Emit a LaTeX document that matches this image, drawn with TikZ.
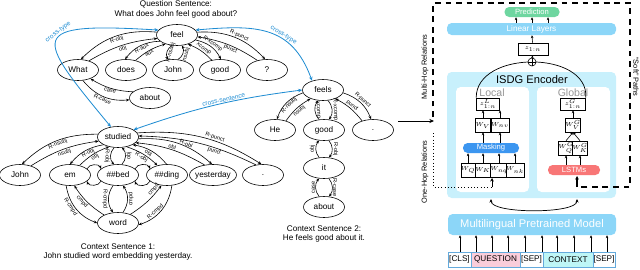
\documentclass[tikz,border=0pt]{standalone}
\usepackage{fontspec}
\setmainfont{Liberation Sans}
\usetikzlibrary{arrows.meta,shapes.geometric,calc}
\definecolor{xblue}{RGB}{30,140,210}
\definecolor{pgreen}{RGB}{110,214,160}
\definecolor{lblue}{RGB}{140,214,248}
\definecolor{cyanbg}{RGB}{200,240,252}
\definecolor{mblue}{RGB}{60,150,240}
\definecolor{lred}{RGB}{248,118,118}
\definecolor{qpink}{RGB}{250,205,218}
\definecolor{ccyan}{RGB}{190,246,246}
\definecolor{tokb}{RGB}{100,170,220}
\definecolor{gtext}{RGB}{150,150,150}
\begin{document}
\begin{tikzpicture}[x=0.03cm,y=-0.03cm,
 tok/.style={ellipse,draw,line width=0.5pt,minimum width=1.23cm,minimum height=0.63cm,inner sep=0pt,font=\fontsize{7}{8}\selectfont},
 rel/.style={line width=0.5pt,-{Stealth[length=3pt,width=2.4pt]}},
 lab/.style={font=\fontsize{4.8}{5}\selectfont,inner sep=0.5pt,sloped},
 cross/.style={xblue,line width=0.7pt,{Stealth[length=3.5pt,width=3pt]}-{Stealth[length=3.5pt,width=3pt]}},
 clab/.style={font=\fontsize{5.5}{6}\selectfont,text=xblue,inner sep=0.6pt,sloped},
 capt/.style={font=\fontsize{7}{8.5}\selectfont,align=center},
 wbox/.style={draw,fill=white,line width=0.5pt,minimum width=0.39cm,minimum height=0.42cm,inner sep=0pt,font=\fontsize{4.6}{5}\selectfont},
 zb/.style={draw,fill=white,line width=0.5pt,minimum width=0.69cm,minimum height=0.36cm,inner sep=0pt,font=\fontsize{5.5}{5.5}\selectfont},
 arr/.style={line width=0.5pt,-{Stealth[length=2.5pt,width=2.2pt]}},
 tokr/.style={draw=tokb,line width=0.5pt,minimum height=0.45cm,inner sep=0pt,font=\fontsize{7}{7}\selectfont},
 vlab/.style={font=\fontsize{6.3}{7}\selectfont}
]
\useasboundingbox (0,0) rectangle (640,269);

% ---------- Question sentence ----------
\node[capt] (qcap) at (176,9) {Question Sentence:\\What does John feel good about?};
\node[tok] (feel) at (177,35) {feel};
\node[tok] (what) at (78,70) {What};
\node[tok] (does) at (126,70) {does};
\node[tok] (john) at (173,70) {John};
\node[tok] (good) at (220,70) {good};
\node[tok] (q) at (267,70) {?};
\node[tok] (about) at (150,98) {about};

\draw[rel] (feel.172) to[bend right=25] node[lab,auto,swap]{R-obj} (what.75);
\draw[rel] (what.40) to[bend left=12] node[lab,auto,swap,pos=0.5]{obj} (feel.190);
\draw[rel] (feel.200) to[bend right=25] node[lab,auto,swap]{R-aux} (does.95);
\draw[rel] (does.45) to[bend left=12] node[lab,auto,swap,pos=0.45]{aux} (feel.218);
\draw[rel] (feel.245) to[bend right=45] node[lab,auto,swap]{R-nsubj} (john.115);
\draw[rel] (john.65) to[bend right=45] node[lab,auto,swap]{nsubj} (feel.295);
\draw[rel] (feel.345) to[bend left=25] node[lab,auto]{R-xcomp} (good.85);
\draw[rel] (good.130) to[bend right=12] node[lab,auto,pos=0.45]{xcomp} (feel.320);
\draw[rel] (feel.8) to[bend left=25] node[lab,auto,pos=0.55]{R-punct} (q.100);
\draw[rel] (q.135) to[bend right=12] node[lab,auto,swap,pos=0.45]{punct} (feel.355);
\draw[rel] (what.295) to[bend right=28] node[lab,auto,swap]{R-case} (about.185);
\draw[rel] (about.160) to[bend left=14] node[lab,auto,swap]{case} (what.325);

% ---------- Context sentence 1 ----------
\node[tok] (studied) at (118,137) {studied};
\node[tok] (john2) at (20,175) {John};
\node[tok] (em) at (70,175) {em};
\node[tok] (bed) at (118,175) {\#\#bed};
\node[tok] (ding) at (167,175) {\#\#ding};
\node[tok,inner xsep=-1pt] (yest) at (213,175) {yesterday};
\node[tok] (dot1) at (263,175) {.};
\node[tok] (word) at (118,223) {word};
\node[capt] (c1cap) at (118,252) {Context Sentence 1:\\John studied word embedding yesterday.};

\draw[rel] (studied.172) to[bend right=22] node[lab,auto,swap]{R-nsubj} (john2.80);
\draw[rel] (john2.40) to[bend left=12] node[lab,auto,swap,pos=0.5]{nsubj} (studied.192);
\draw[rel] (studied.208) to[bend right=20] node[lab,auto,swap,pos=0.45]{R-obj} (em.90);
\draw[rel] (em.45) to[bend left=12] node[lab,auto,swap,pos=0.5]{obj} (studied.228);
\draw[rel] (studied.250) to[bend right=45] node[lab,auto,swap]{R-obj} (bed.110);
\draw[rel] (bed.70) to[bend right=45] node[lab,auto,swap]{obj} (studied.290);
\draw[rel] (studied.312) to[bend left=12] node[lab,auto,swap,pos=0.5]{R-obj} (ding.135);
\draw[rel] (ding.92) to[bend right=20] node[lab,auto,swap,pos=0.55]{obj} (studied.332);
\draw[rel] (studied.355) to[bend left=22] node[lab,auto,pos=0.6]{R-obl} (yest.95);
\draw[rel] (yest.130) to[bend right=12] node[lab,auto,pos=0.5]{obl} (studied.342);
\draw[rel] (studied.12) to[bend left=18] node[lab,auto,pos=0.6]{R-punct} (dot1.98);
\draw[rel] (dot1.125) to[bend right=12] node[lab,auto,swap,pos=0.35]{punct} (studied.3);
\draw[rel] (em.20) to[bend left=70] (bed.160);
\draw[rel] (bed.200) to[bend left=70] (em.340);
\draw[rel] (bed.20) to[bend left=70] (ding.160);
\draw[rel] (ding.200) to[bend left=70] (bed.340);
\draw[rel] (em.250) to[bend right=30] node[lab,auto,swap,pos=0.4]{R-cmpd} (word.180);
\draw[rel] (word.150) to[bend left=12] node[lab,auto,swap,pos=0.6]{cmpd} (em.292);
\draw[rel] (bed.245) to[bend right=35] node[lab,auto,swap]{R-cmpd} (word.115);
\draw[rel] (word.65) to[bend right=35] node[lab,auto,swap]{cmpd} (bed.295);
\draw[rel] (ding.295) to[bend left=32] node[lab,auto,pos=0.6]{R-cmpd} (word.355);
\draw[rel] (word.35) to[bend right=10] node[lab,auto,pos=0.82]{cmpd} (ding.242);

% ---------- Context sentence 2 ----------
\node[tok] (feels) at (323,90) {feels};
\node[tok] (he) at (275,130) {He};
\node[tok] (good2) at (324,130) {good};
\node[tok] (dot2) at (373,130) {.};
\node[tok] (it) at (324,168) {it};
\node[tok] (about2) at (324,207) {about};
\node[capt] (c2cap) at (324,234) {Context Sentence 2:\\He feels good about it.};

\draw[rel] (feels.188) to[bend right=25] node[lab,auto,swap]{R-nsubj} (he.80);
\draw[rel] (he.40) to[bend left=12] node[lab,auto,swap,pos=0.5]{nsubj} (feels.215);
\draw[rel] (good2.115) to[bend left=40] node[lab,auto]{xcomp} (feels.245);
\draw[rel] (feels.295) to[bend left=40] node[lab,auto]{R-xcomp} (good2.65);
\draw[rel] (feels.352) to[bend left=25] node[lab,auto]{R-punct} (dot2.100);
\draw[rel] (dot2.140) to[bend right=12] node[lab,auto,pos=0.5]{punct} (feels.325);
\draw[rel] (it.115) to[bend left=40] node[lab,auto]{obj} (good2.245);
\draw[rel] (good2.295) to[bend left=40] node[lab,auto]{R-obj} (it.65);
\draw[rel] (about2.115) to[bend left=40] node[lab,auto]{case} (it.245);
\draw[rel] (it.295) to[bend left=40] node[lab,auto]{R-case} (about2.65);

% ---------- cross edges ----------
\draw[cross] (feel.165) .. controls (25,22) and (35,35) .. node[clab,pos=0.42,above]{cross-type} (studied.125);
\draw[cross] (feel.15) to[out=5,in=110,looseness=1.2] node[clab,pos=0.62,above]{cross-type} (feels.140);
\draw[cross] (studied.25) to[bend left=6] node[clab,pos=0.55,above]{cross-sentence} (feels.180);

% ---------- right panel ----------
\coordinate (arrs) at (398,121);
\coordinate (arre) at (434,121);
\draw[line width=0.8pt,-{Stealth[length=4pt,width=3.5pt]}] (arrs) -- (arre);

\node[fill=cyanbg,rounded corners=4pt,minimum width=5.07cm,minimum height=3.78cm] (isdg) at (531.5,135) {};
\node[fill=white,rounded corners=4pt,minimum width=2.19cm,minimum height=3.15cm] (localb) at (492.5,139.5) {};
\node[fill=white,rounded corners=4pt,minimum width=2.19cm,minimum height=3.15cm] (globalb) at (573.5,139.5) {};
\node[font=\fontsize{9.5}{10}\selectfont] (isdgt) at (532,80) {ISDG Encoder};
\node[font=\fontsize{9}{9}\selectfont,text=gtext] (loct) at (492,93) {Local};
\node[font=\fontsize{9}{9}\selectfont,text=gtext] (glot) at (573,93) {Global};

% dashed box and dotted line
\coordinate (dcorner) at (577,187);
\coordinate (lstmin) at (577,176);
\draw[line width=1pt,dash pattern=on 5pt off 4pt] (433,117) -- (433,3) -- (630,3) -- (630,187) -- (dcorner);
\coordinate (dotc) at (492,187);
\coordinate (mgroup) at (492,178);
\draw[line width=0.8pt,dotted] (433,133) -- (433,187) -- (dotc);
\draw[line width=0.8pt,-{Stealth[length=3pt,width=3pt]}] (dotc) -- (mgroup);
\draw[line width=1pt,-{Stealth[length=3pt,width=3pt]}] (dcorner) -- (lstmin);

\node[vlab,rotate=90] (mhr) at (425,67) {Multi-Hop Relations};
\node[vlab,rotate=90] (ohr) at (425,172) {One-Hop Relations};
\node[vlab,rotate=-90,inner sep=0pt] (sp) at (636,77) {``Soft'' Paths};

% top
\node[fill=pgreen,rounded corners=4pt,minimum width=1.65cm,minimum height=0.3cm,inner sep=0pt,text=white,font=\fontsize{6.5}{6.5}\selectfont] (pred) at (532,12) {Prediction};
\node[fill=lblue,rounded corners=4pt,minimum width=5.07cm,minimum height=0.36cm,inner sep=0pt,text=white,font=\fontsize{7}{7}\selectfont] (lin) at (531.5,29) {Linear Layers};
\foreach \xx in {516,532,548} \draw[arr] (\xx,0 |- lin.north) -- (\xx,0 |- pred.south);
\node[zb,minimum width=0.9cm] (zall) at (533,49) {$z_{1:n}$};
\draw[arr] (zall) -- (lin);

% local column
\node[zb] (zl) at (488,104) {$z^{L}_{1:n}$};
\node[zb,minimum width=0.75cm] (zg) at (573,104) {$z^{G}_{1:n}$};
\draw[line width=0.6pt] (zl.north west) .. controls (476,50) and (589,50) .. (zg.north east);
\node[circle,draw,fill=white,line width=0.5pt,minimum size=0.24cm,inner sep=0pt] (op) at (532,62) {};
\draw[line width=0.5pt] (op.north) -- (op.south) (op.east) -- (op.west);
\draw[arr] (op) -- (zall);

\node[wbox] (wv) at (483,125) {$W_V$};
\node[wbox] (wnv) at (500,125) {$W_{nv}$};
\node[fill=mblue,rounded corners=4pt,minimum width=1.68cm,minimum height=0.3cm,inner sep=0pt,text=white,font=\fontsize{6.5}{6.5}\selectfont] (mask) at (491,148) {Masking};
\node[wbox] (wq) at (468,170) {$W_Q$};
\node[wbox] (wk) at (483,170) {$W_K$};
\node[wbox] (wnq) at (499,170) {$W_{nq}$};
\node[wbox] (wnk) at (515,170) {$W_{nk}$};
\draw[arr] (wv) -- (wv |- zl.south);
\draw[arr] (wnv) -- (wnv |- zl.south);
\draw[arr] (wv |- mask.north) -- (wv);
\draw[arr] (wnv |- mask.north) -- (wnv);
\foreach \b in {wq,wk,wnq,wnk} \draw[arr] (\b) -- (\b |- mask.south);

% global column
\node[wbox] (wgv) at (573,125) {$W^{G}_{V}$};
\node[wbox] (wgq) at (566,148) {$W^{G}_{Q}$};
\node[wbox] (wgk) at (580,148) {$W^{G}_{K}$};
\node[fill=lred,rounded corners=4pt,minimum width=1.56cm,minimum height=0.3cm,inner sep=0pt,text=white,font=\fontsize{6.5}{6.5}\selectfont] (lstm) at (574,170) {LSTMs};
\draw[arr] (wgv) -- (zg);
\draw[arr] (wgq.north) -- (wgv.south);
\draw[arr] (wgk.north) -- (wgv.south);
\draw[arr] (wgq |- lstm.north) -- (wgq);
\draw[arr] (wgk |- lstm.north) -- (wgk);

% bottom
\node[fill=lblue,rounded corners=4pt,minimum width=5.04cm,minimum height=0.63cm,inner sep=0pt,text=white,font=\fontsize{9.5}{9.5}\selectfont] (mpm) at (532,224.5) {Multilingual Pretrained Model};
\coordinate (ua) at (491,199);
\coordinate (ub) at (577,199);
\draw[line width=0.6pt,{Stealth[length=3pt,width=2.6pt]}-{Stealth[length=3pt,width=2.6pt]}] (ua) .. controls (491,214) and (577,214) .. (ub);

\node[tokr,fill=white,minimum width=0.69cm] (cls) at (459.5,259.5) {[CLS]};
\node[tokr,fill=qpink,minimum width=1.47cm] (qtok) at (495.5,259.5) {QUESTION};
\node[tokr,fill=white,minimum width=0.69cm] (sep1) at (531.5,259.5) {[SEP]};
\node[tokr,fill=ccyan,minimum width=1.5cm] (ctok) at (568,259.5) {CONTEXT};
\node[tokr,fill=white,minimum width=0.66cm] (sep2) at (604,259.5) {[SEP]};
\foreach \xx in {460,476,492,508,525,542,557,574,591,607}
  \draw[arr] (\xx,0 |- cls.north) -- (\xx,0 |- mpm.south);
\end{tikzpicture}
\end{document}
